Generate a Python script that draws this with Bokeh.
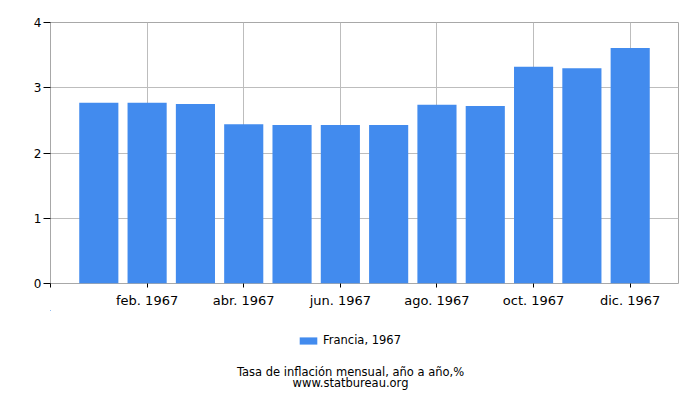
from bokeh.plotting import figure
from bokeh.models import (ColumnDataSource, FixedTicker, Legend, LegendItem, Label, Range1d)
from bokeh.layouts import column
from bokeh.embed import file_html
from bokeh.resources import INLINE

months = ["ene. 1967", "feb. 1967", "mar. 1967", "abr. 1967", "may. 1967", "jun. 1967",
          "jul. 1967", "ago. 1967", "sept. 1967", "oct. 1967", "nov. 1967", "dic. 1967"]
values = [2.77, 2.77, 2.75, 2.44, 2.43, 2.43, 2.43, 2.74, 2.72, 3.32, 3.30, 3.61]
series_name = "Francia, 1967"
y_ticks = [0, 1, 2, 3, 4]
title_text = "Tasa de inflación mensual, año a año,%"
source_text = "www.statbureau.org"

FONT = "DejaVu Sans"
BLUE = "#428BEE"
W = 684

idx = list(range(len(months)))
src = ColumnDataSource(dict(x=idx, top=values, label=months))

p = figure(width=W, height=310, output_backend="svg", toolbar_location=None,
           x_range=Range1d(-1, len(months)), y_range=Range1d(0, 4))
p.min_border_left = 50
p.min_border_right = 6
p.min_border_top = 22
p.min_border_bottom = 27
p.background_fill_color = "white"
p.border_fill_color = "white"
p.outline_line_color = "#a8a8a8"
p.outline_line_width = 1

r = p.vbar(x="x", top="top", width=0.81, bottom=0, source=src,
           fill_color=BLUE, line_color=None)

tick_pos = [-1] + [i for i in idx if i % 2 == 1]
p.xaxis.ticker = FixedTicker(ticks=tick_pos)
overrides = {-1: " "}
for i in idx:
    overrides[i] = months[i]
p.xaxis.major_label_overrides = overrides
p.yaxis.ticker = FixedTicker(ticks=y_ticks)

for ax in (p.xaxis[0], p.yaxis[0]):
    ax.axis_line_color = None
    ax.major_tick_line_color = "#000000"
    ax.major_tick_in = 0
    ax.minor_tick_line_color = None
    ax.major_label_text_font = FONT
    ax.major_label_text_color = "#000000"
p.xaxis.major_tick_out = 4
p.xaxis.major_label_standoff = 5
p.xaxis.major_label_text_font_size = "13px"
p.yaxis.major_tick_out = 7
p.yaxis.major_label_standoff = 2
p.yaxis.major_label_text_font_size = "12px"

p.xgrid.grid_line_color = "#bdbdbd"
p.ygrid.grid_line_color = "#bdbdbd"
p.xgrid.ticker = FixedTicker(ticks=tick_pos)

# lower strip with legend and captions; its frame is aligned with the chart frame
# (50..678 px horizontally), so data units equal page pixels
q = figure(width=W, height=82, output_backend="svg", toolbar_location=None,
           x_range=Range1d(50, 678), y_range=Range1d(392, 310))
q.min_border_left = 50
q.min_border_right = 6
q.min_border_top = 0
q.min_border_bottom = 0
q.axis.visible = False
q.grid.visible = False
q.outline_line_color = None
q.background_fill_color = "white"
q.border_fill_color = "white"

# legend swatch renderer: same series styling, zero-size bars (nothing drawn)
swatch = q.vbar(x="x", top="top", bottom="top", width=0, source=src,
                fill_color=BLUE, line_color=None)
legend = Legend(items=[LegendItem(label=series_name, renderers=[swatch])],
                location=(247, 45), orientation="horizontal",
                padding=0, margin=0, spacing=0,
                glyph_width=22, glyph_height=9, label_height=9, label_standoff=4,
                border_line_color=None, background_fill_alpha=0,
                label_text_font=FONT, label_text_font_size="11.5px",
                label_text_color="#000000")
q.add_layout(legend, "center")

q.add_layout(Label(x=350, y=371.5, text=title_text,
                   text_align="center", text_baseline="middle", text_font=FONT,
                   text_font_size="11.5px", text_color="#000000"))
q.add_layout(Label(x=350, y=382, text=source_text,
                   text_align="center", text_baseline="middle", text_font=FONT,
                   text_font_size="11.5px", text_color="#000000"))

layout = column(p, q, spacing=0)
open("out.html", "w").write(file_html(layout, INLINE))
